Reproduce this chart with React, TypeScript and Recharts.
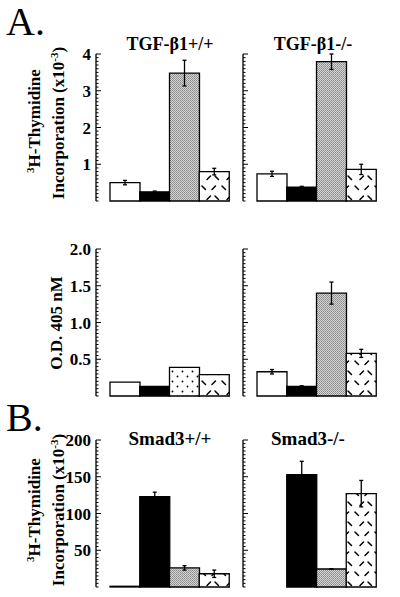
import { BarChart, Bar, XAxis, YAxis, Cell, ErrorBar } from "recharts";

// four treatments per genotype, left to right
const treatments = ["t1", "t2", "t3", "t4"];

// A, 3H-thymidine incorporation (x10^-3)
const tgfWtThy = [0.5, 0.25, 3.48, 0.8];
const tgfWtThyErr = [0.06, 0.02, 0.35, 0.09];
const tgfKoThy = [0.74, 0.38, 3.79, 0.86];
const tgfKoThyErr = [0.07, 0.02, 0.21, 0.14];

// A, O.D. 405 nM
const tgfWtOd = [0.19, 0.13, 0.39, 0.29];
const tgfWtOdErr = [0, 0, 0, 0];
const tgfKoOd = [0.33, 0.13, 1.4, 0.58];
const tgfKoOdErr = [0.03, 0.01, 0.15, 0.055];

// B, 3H-thymidine incorporation (x10^-3)
const smadWtThy = [1, 123, 26, 18];
const smadWtThyErr = [0, 6, 3, 5];
const smadKoThy = [0, 153, 24.5, 127];
const smadKoThyErr = [0, 18, 0.5, 18];

const thyTicksA = [1, 2, 3, 4];
const odTicks = [0.5, 1.0, 1.5, 2.0];
const thyTicksB = [50, 100, 150, 200];

const FONT = "'Liberation Serif', 'Times New Roman', serif";

const fillsStd = ["#ffffff", "#000000", "url(#gray)", "url(#hatch)"];
const fillsDots = ["#ffffff", "#000000", "url(#dots)", "url(#hatch)"];

const rows = (vals: number[], errs: number[]) =>
  treatments.map((name, i) => ({ name, value: vals[i], err: errs[i] }));

const minorTicks = (max: number, step: number) => {
  const out: number[] = [];
  const n = Math.round(max / step);
  for (let i = 0; i <= n; i++) out.push(Math.round(i * step * 1000) / 1000);
  return out;
};

const makeTick = (majors: number[], labels: boolean, digits: number) => (props: any) => {
  const { x, y, payload } = props;
  const v = payload.value;
  const isMajor = majors.some((m) => Math.abs(m - v) < 1e-6);
  return (
    <g>
      <line x1={x} x2={x + (isMajor ? 5 : 2.5)} y1={y} y2={y} stroke="#000" strokeWidth={1} />
      {labels && isMajor && (
        <text
          x={x - 5}
          y={y}
          dy="0.36em"
          textAnchor="end"
          fontFamily={FONT}
          fontWeight="bold"
          fontSize={17}
          fill="#000"
        >
          {v.toFixed(digits)}
        </text>
      )}
    </g>
  );
};

type HalfProps = {
  data: { name: string; value: number; err: number }[];
  fills: string[];
  max: number;
  step: number;
  majors: number[];
  digits: number;
  left: number;
  top: number;
  isLeft: boolean;
};

function Half({ data, fills, max, step, majors, digits, left, top, isLeft }: HalfProps) {
  const yw = isLeft ? 36 : 10;
  return (
    <div style={{ position: "absolute", left, top }}>
      <BarChart
        width={147 + yw}
        height={167}
        data={data}
        margin={{ top: 10, right: 0, bottom: 10, left: 0 }}
        barCategoryGap={0}
      >
        <XAxis
          dataKey="name"
          height={0}
          tick={false}
          tickLine={false}
          axisLine={{ stroke: "#000", strokeWidth: 1.3 }}
          padding={{ left: 14, right: 14 }}
        />
        <YAxis
          type="number"
          domain={[0, max]}
          ticks={minorTicks(max, step)}
          interval={0}
          width={yw}
          tickSize={0}
          tickMargin={0}
          tickLine={false}
          axisLine={{ stroke: "#000", strokeWidth: 1.3 }}
          tick={makeTick(majors, isLeft, digits)}
        />
        <Bar dataKey="value" isAnimationActive={false} stroke="#000" strokeWidth={1.3}>
          {data.map((d, i) => (
            <Cell key={d.name} fill={fills[i]} />
          ))}
          <ErrorBar dataKey="err" width={2} stroke="#000" strokeWidth={1.3} direction="y" />
        </Bar>
      </BarChart>
    </div>
  );
}

const txt = { fontFamily: FONT, fontWeight: "bold" as const, fill: "#000" };

export default function App() {
  return (
    <div style={{ position: "absolute", left: 0, top: 0, width: 400, height: 597, background: "#fff" }}>
      <svg width={0} height={0} style={{ position: "absolute" }}>
        <defs>
          <pattern id="gray" width={2} height={2} patternUnits="userSpaceOnUse">
            <rect width={2} height={2} fill="#d4d4d4" />
            <rect width={1} height={1} fill="#8a8a8a" />
            <rect x={1} y={1} width={1} height={1} fill="#9a9a9a" />
          </pattern>
          <pattern id="hatch" width={20} height={20} patternUnits="userSpaceOnUse">
            <rect width={20} height={20} fill="#fff" />
            <g stroke="#000" strokeWidth={1.5} strokeLinecap="round">
              <line x1={2} y1={2} x2={5.5} y2={5.5} />
              <line x1={12} y1={5.5} x2={15.5} y2={2} />
              <line x1={7} y1={15.5} x2={10.5} y2={12} />
              <line x1={15} y1={12} x2={18.5} y2={15.5} />
            </g>
          </pattern>
          <pattern id="dots" width={10} height={10} patternUnits="userSpaceOnUse">
            <rect width={10} height={10} fill="#fff" />
            <circle cx={2.5} cy={2.5} r={0.9} fill="#000" />
            <circle cx={7.5} cy={7.5} r={0.9} fill="#000" />
          </pattern>
        </defs>
      </svg>

      <Half data={rows(tgfWtThy, tgfWtThyErr)} fills={fillsStd} max={4} step={0.1} majors={thyTicksA} digits={0} left={60} top={44} isLeft />
      <Half data={rows(tgfKoThy, tgfKoThyErr)} fills={fillsStd} max={4} step={0.1} majors={thyTicksA} digits={0} left={233} top={44} isLeft={false} />

      <Half data={rows(tgfWtOd, tgfWtOdErr)} fills={fillsDots} max={2} step={0.05} majors={odTicks} digits={1} left={60} top={239} isLeft />
      <Half data={rows(tgfKoOd, tgfKoOdErr)} fills={fillsStd} max={2} step={0.05} majors={odTicks} digits={1} left={233} top={239} isLeft={false} />

      <Half data={rows(smadWtThy, smadWtThyErr)} fills={fillsStd} max={200} step={5} majors={thyTicksB} digits={0} left={60} top={430} isLeft />
      <Half data={rows(smadKoThy, smadKoThyErr)} fills={fillsStd} max={200} step={5} majors={thyTicksB} digits={0} left={233} top={430} isLeft={false} />

      <svg width={400} height={597} style={{ position: "absolute", left: 0, top: 0, pointerEvents: "none" }}>
        <text x={6} y={35} fontFamily={FONT} fontSize={40} fill="#000">A.</text>
        <text x={6} y={431} fontFamily={FONT} fontSize={40} fill="#000">B.</text>

        <text {...txt} x={170} y={50} fontSize={18} textAnchor="middle">TGF-β1+/+</text>
        <text {...txt} x={313} y={50} fontSize={18} textAnchor="middle">TGF-β1-/-</text>
        <text {...txt} x={170} y={445} fontSize={19} textAnchor="middle">Smad3+/+</text>
        <text {...txt} x={308} y={445} fontSize={19} textAnchor="middle">Smad3-/-</text>

        <g transform="translate(40,121) rotate(-90)">
          <text {...txt} x={0} y={0} fontSize={17} textAnchor="middle">
            <tspan fontSize={11} dy={-6}>3</tspan>
            <tspan dy={6}>H-Thymidine</tspan>
          </text>
        </g>
        <g transform="translate(64,123) rotate(-90)">
          <text {...txt} x={0} y={0} fontSize={17} textAnchor="middle">
            <tspan>Incorporation (x10</tspan>
            <tspan fontSize={11} dy={-6}>-3</tspan>
            <tspan dy={6}>)</tspan>
          </text>
        </g>

        <g transform="translate(62,323) rotate(-90)">
          <text {...txt} x={0} y={0} fontSize={17} textAnchor="middle">O.D. 405 nM</text>
        </g>

        <g transform="translate(40,510) rotate(-90)">
          <text {...txt} x={0} y={0} fontSize={17} textAnchor="middle">
            <tspan fontSize={11} dy={-6}>3</tspan>
            <tspan dy={6}>H-Thymidine</tspan>
          </text>
        </g>
        <g transform="translate(64,510) rotate(-90)">
          <text {...txt} x={0} y={0} fontSize={17} textAnchor="middle">
            <tspan>Incorporation (x10</tspan>
            <tspan fontSize={11} dy={-6}>-3</tspan>
            <tspan dy={6}>)</tspan>
          </text>
        </g>
      </svg>
    </div>
  );
}
